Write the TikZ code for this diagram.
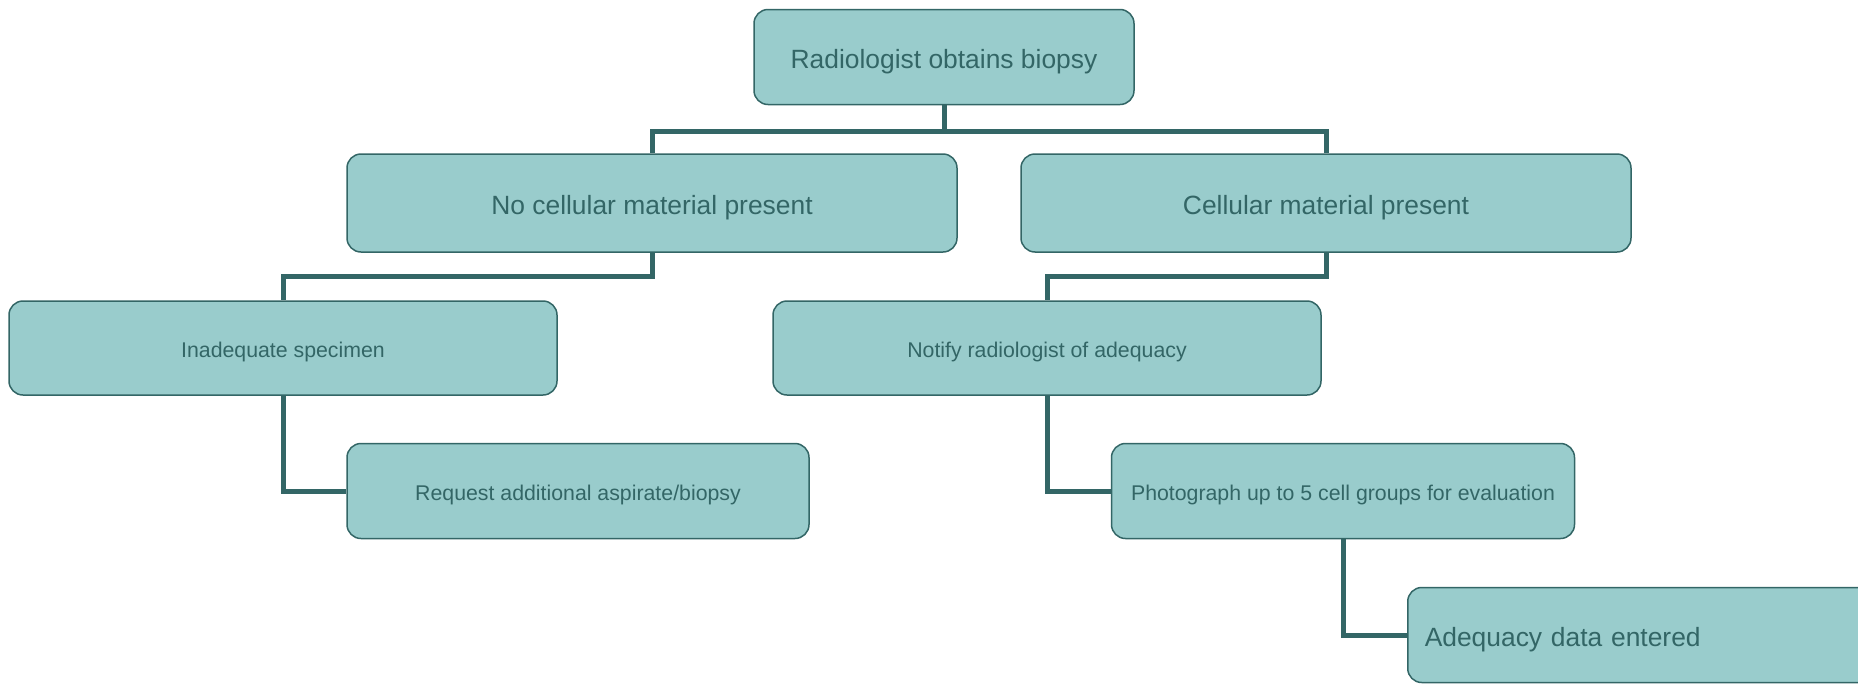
\documentclass[tikz,border=0pt]{standalone}
\usepackage{fontspec}
\setmainfont{Liberation Sans}
\usepackage{xcolor}
\usepackage{tikz}
\usetikzlibrary{positioning}
\definecolor{boxfill}{HTML}{99CCCC}
\definecolor{boxline}{HTML}{336666}
\definecolor{linkcol}{HTML}{336666}
\newcommand{\bigtxt}{\fontsize{26.4}{30}\selectfont}
\newcommand{\smalltxt}{\fontsize{21.3}{25}\selectfont}

\begin{document}
\begin{tikzpicture}[x=1pt,y=-1pt,
              box/.style={draw=boxline, line width=1.5pt, fill=boxfill, rounded corners=14pt,
                          text=boxline, minimum height=95pt, inner sep=0pt},
              big/.style={box, font=\bigtxt, text height=29pt, text depth=5.5pt},
              small/.style={box, font=\smalltxt, text height=24.3pt, text depth=4.5pt},
              link/.style={draw=linkcol, line width=5pt},
             ]

\useasboundingbox (0,0) rectangle (1858,683);

\node[big, minimum width=380pt] (biopsy) at (944,57) {Radiologist obtains biopsy};
\node[big, minimum width=610pt, minimum height=98pt] (nocell) at (652,203) {No cellular material present};
\node[big, minimum width=610pt, minimum height=98pt] (cell) at (1326,203) {Cellular material present};
\node[small, minimum width=548pt, minimum height=94pt] (inadequate) at (283,348) {Inadequate specimen};
\node[small, minimum width=548pt, minimum height=94pt] (notify) at (1047,348) {Notify radiologist of adequacy};
\node[small, minimum width=462pt] (request) at (578,491) {Request additional aspirate/biopsy};
\node[small, minimum width=463pt] (photo) at (1343,491) {Photograph up to 5 cell groups for evaluation};
\node[big, anchor=west, text width=436pt, inner xsep=17pt, align=left] (entered) at (1407,635) {Adequacy data entered};

% connectors
\draw[link] (biopsy.south) -- ++(0,26) -| (nocell.north);
\draw[link] (biopsy.south) -- ++(0,26) -| (cell.north);
\draw[link] (nocell.south) -- ++(0,24) -| (inadequate.north);
\draw[link] (cell.south) -- ++(0,24) -| (notify.north);
\draw[link] (inadequate.south) |- (request.west);
\draw[link] (notify.south) |- (photo.west);
\draw[link] (photo.south) |- (entered.west);
\end{tikzpicture}
\end{document}
